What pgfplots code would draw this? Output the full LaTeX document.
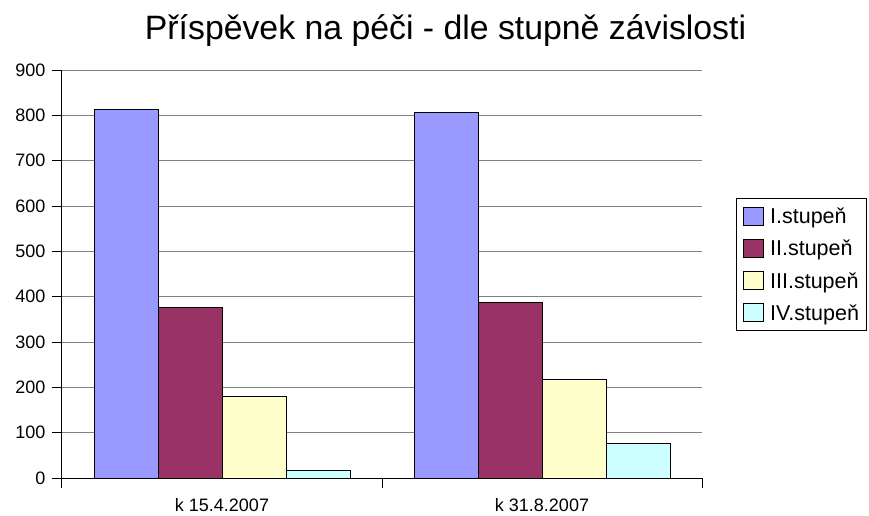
\documentclass[border=0pt]{standalone}
\usepackage{fontspec}
\setmainfont{Liberation Sans}
\usepackage{pgfplots}
\pgfplotsset{compat=1.18}
\definecolor{stI}{HTML}{9999FF}
\definecolor{stII}{HTML}{993366}
\definecolor{stIII}{HTML}{FFFFCC}
\definecolor{stIV}{HTML}{CCFFFF}
\definecolor{gridgray}{HTML}{808080}

\begin{document}
\begin{tikzpicture}
\begin{axis}[
  at={(0pt,0pt)}, anchor=south west,
  scale only axis, width=640pt, height=408pt,
  ybar=0pt, bar width=64pt,
  xmin=-0.5, xmax=1.5, ymin=0, ymax=900,
  ytick={0,100,...,900},
  xtick={-0.5,0.5,1.5}, xticklabels={},
  extra x ticks={0,1},
  extra x tick labels={k 15.4.2007,k 31.8.2007},
  extra x tick style={major tick length=0pt},
  axis x line=bottom, axis y line=left,
  axis line style={-, black, line width=1pt},
  ymajorgrids, grid style={color=gridgray, line width=1pt},
  tick align=outside, major tick length=10pt,
  tick style={black, line width=1pt},
  x tick label style={font=\fontsize{18}{21}\selectfont, yshift=-17pt},
  y tick label style={font=\fontsize{18}{21}\selectfont, xshift=-3pt},
  /pgf/number format/assume math mode=true,
  legend style={at={(1.053,0.686)}, anchor=north west, draw=black,
    line width=0.8pt, font=\fontsize{21.5}{24}\selectfont,
    row sep=13.5pt, column sep=6pt, inner xsep=7pt, inner ysep=8pt,
    nodes={inner sep=0pt, text height=15pt, text depth=0pt}},
  legend cell align=left,
  legend image code/.code={\draw[#1, line width=0.8pt] (0pt,-9pt) rectangle (20pt,9pt);},
]
\addplot[fill=stI, draw=black, line width=0.8pt] coordinates {(0,813) (1,806)};
\addplot[fill=stII, draw=black, line width=0.8pt] coordinates {(0,376) (1,388)};
\addplot[fill=stIII, draw=black, line width=0.8pt] coordinates {(0,179) (1,217)};
\addplot[fill=stIV, draw=black, line width=0.8pt] coordinates {(0,17) (1,76)};
\legend{I.stupeň,II.stupeň,III.stupeň,IV.stupeň}
\end{axis}
\node[anchor=base, font=\fontsize{33.8}{40}\selectfont] at (383.5pt,438pt) {Příspěvek na péči - dle stupně závislosti};
\pgfresetboundingbox
\path[use as bounding box] (-62pt,-38pt) rectangle (807pt,478pt);
\end{tikzpicture}
\end{document}
